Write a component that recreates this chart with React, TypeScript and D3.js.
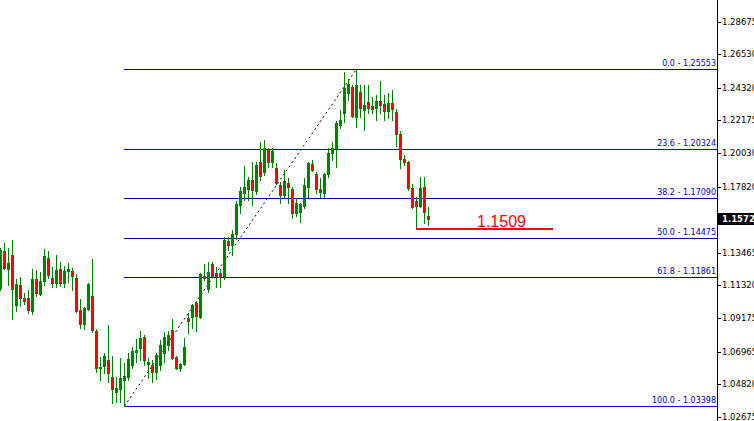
import React from "react";
import * as d3 from "d3";

const opens = [1.1115,1.1359,1.1240,1.1332,1.1004,1.1135,1.1050,1.1050,1.0964,1.1175,1.1076,1.1161,1.1313,1.1181,1.1148,1.1240,1.1148,1.1227,1.1227,1.1181,1.0971,1.0879,1.0977,1.1063,1.0833,1.0594,1.0603,1.0642,1.0530,1.0432,1.0451,1.0511,1.0530,1.0609,1.0695,1.0721,1.0793,1.0616,1.0609,1.0563,1.0609,1.0688,1.0741,1.0839,1.0662,1.0589,1.0616,1.0918,1.0925,1.1017,1.0925,1.1194,1.1109,1.1273,1.1214,1.1214,1.1194,1.1424,1.1398,1.1470,1.1661,1.1740,1.1766,1.1825,1.1753,1.1944,1.1878,1.2023,1.1944,1.1904,1.1793,1.1727,1.1806,1.1766,1.1609,1.1615,1.1655,1.1779,1.1931,1.1865,1.1766,1.1740,1.1865,1.2003,1.2036,1.2187,1.2266,1.2397,1.2437,1.2240,1.2404,1.2286,1.2338,1.2312,1.2299,1.2345,1.2325,1.2279,1.2332,1.2273,1.2128,1.1964,1.1944,1.1773,1.1687,1.1655,1.1779,1.1589];
const highs = [1.1378,1.1411,1.1378,1.1431,1.1175,1.1188,1.1083,1.1102,1.1240,1.1234,1.1221,1.1372,1.1359,1.1253,1.1332,1.1286,1.1260,1.1280,1.1247,1.1207,1.1043,1.0991,1.1148,1.1306,1.0846,1.0662,1.0688,1.0872,1.0668,1.0530,1.0655,1.0622,1.0688,1.0728,1.0780,1.0833,1.0806,1.0655,1.0642,1.0688,1.0774,1.0826,1.0833,1.0912,1.0668,1.0622,1.0787,1.0951,1.1010,1.1023,1.1214,1.1273,1.1286,1.1286,1.1253,1.1240,1.1451,1.1451,1.1497,1.1687,1.1779,1.1918,1.1845,1.1944,1.1944,1.2075,1.2088,1.2036,1.2036,1.1937,1.1812,1.1891,1.1839,1.1779,1.1707,1.1674,1.1839,1.1944,1.1957,1.1878,1.1839,1.1872,1.2036,1.2075,1.2213,1.2286,1.2536,1.2490,1.2450,1.25553,1.2450,1.2450,1.2450,1.2371,1.2384,1.2476,1.2384,1.2397,1.2417,1.2292,1.2148,1.1990,1.1950,1.1799,1.1714,1.1845,1.1845,1.1648];
const lows = [1.1102,1.1240,1.1135,1.0912,1.0964,1.0997,1.1010,1.0951,1.0944,1.1063,1.1069,1.1135,1.1181,1.1122,1.1122,1.1129,1.1122,1.1155,1.1102,1.0958,1.0852,1.0846,1.0971,1.0826,1.0563,1.0511,1.0557,1.0497,1.0359,1.0366,1.0366,1.03398,1.0511,1.0589,1.0629,1.0642,1.0609,1.0524,1.0497,1.0517,1.0576,1.0629,1.0708,1.0649,1.0583,1.0570,1.0609,1.0820,1.0852,1.0833,1.0918,1.1168,1.1089,1.1188,1.1122,1.1122,1.1175,1.1365,1.1332,1.1438,1.1609,1.1694,1.1694,1.1661,1.1733,1.1825,1.1858,1.1911,1.1911,1.1799,1.1674,1.1714,1.1674,1.1576,1.1589,1.1549,1.1641,1.1714,1.1885,1.1740,1.1714,1.1714,1.1845,1.1957,1.1911,1.2167,1.2207,1.2351,1.2240,1.2174,1.2240,1.2154,1.2266,1.2266,1.2220,1.2266,1.2220,1.2233,1.2220,1.2049,1.1904,1.1924,1.1760,1.1641,1.1509,1.1648,1.1543,1.1530];
const closes = [1.1365,1.1247,1.1280,1.1109,1.1142,1.1050,1.1030,1.0971,1.1175,1.1083,1.1161,1.1326,1.1201,1.1148,1.1234,1.1148,1.1227,1.1240,1.1194,1.0964,1.0879,1.0984,1.1142,1.0839,1.0589,1.0592,1.0668,1.0557,1.0451,1.0458,1.0524,1.0537,1.0649,1.0701,1.0708,1.0787,1.0642,1.0629,1.0563,1.0675,1.0741,1.0793,1.0806,1.0655,1.0589,1.0616,1.0728,1.0898,1.1004,1.0931,1.1207,1.1181,1.1221,1.1194,1.1194,1.1188,1.1431,1.1398,1.1470,1.1668,1.1753,1.1779,1.1825,1.1760,1.1924,1.1852,1.2036,1.1944,1.2016,1.1806,1.1727,1.1819,1.1779,1.1609,1.1674,1.1668,1.1793,1.1937,1.1891,1.1766,1.1747,1.1865,1.2003,1.2036,1.2200,1.2220,1.2430,1.2457,1.2246,1.2450,1.2299,1.2319,1.2299,1.2292,1.2345,1.2319,1.2279,1.2332,1.2292,1.2128,1.1964,1.1944,1.1773,1.1648,1.1655,1.1773,1.1615,1.1572];

const axisTicks = [1.28675,1.2653,1.2432,1.22175,1.2003,1.1782,1.13465,1.1132,1.09175,1.06965,1.0482,1.02675];
const fibLevels = [0.0, 23.6, 38.2, 50.0, 61.8, 100.0];
const fibPrices = [1.25553, 1.20324, 1.1709, 1.14475, 1.11861, 1.03398];
const fibColors = ["#000090", "#0000ff", "#000090", "#000090", "#000090", "#0000ff"];
const fibLowIndex = 31;
const fibHighIndex = 89;
const supportPrice = 1.1509;
const supportLabel = "1.1509";
const supportStartIndex = 104;
const supportBars = 34;
const currentPrice = 1.15721;

const W = 754;
const H = 421;
const AXIS_X = 717;
const GREEN = "#008000";
const RED = "#ff0000";

export default function App() {
  const y = d3.scaleLinear().domain([1.03398, 1.25553]).range([406, 69]);
  const x = d3.scaleLinear().domain([0, 1]).range([0, 4]);
  const py = (v: number) => Math.round(y(v));

  const candles = opens.map((o, i) => {
    const c = closes[i];
    const h = highs[i];
    const l = lows[i];
    const cx = x(i);
    const top = py(Math.max(o, c));
    const bot = py(Math.min(o, c));
    const bear = c < o;
    const bh = Math.max(1, bot - top + 1);
    return (
      <g key={i}>
        <rect x={cx} y={py(h)} width={1} height={py(l) - py(h) + 1} fill={GREEN} />
        <rect x={cx - 1} y={top} width={3} height={bh} fill={GREEN} />
        {bear && bh > 2 && <rect x={cx} y={top + 1} width={1} height={bh - 2} fill={RED} />}
      </g>
    );
  });

  const fibX0 = x(fibLowIndex);

  return (
    <svg width={W} height={H} style={{ position: "absolute", left: 0, top: 0, background: "#fff" }} shapeRendering="crispEdges">
      <rect x={0} y={0} width={W} height={H} fill="#fff" />
      {fibPrices.map((p, i) => (
        <g key={"f" + i}>
          <rect x={fibX0} width={AXIS_X - fibX0} y={py(p)} height={1} fill={fibColors[i]} />
          <text x={AXIS_X - 1} y={py(p) - 3} textAnchor="end" fontFamily="DejaVu Sans" fontSize={8} fill="#0000cc" shapeRendering="auto">
            {fibLevels[i].toFixed(1) + " - " + p.toFixed(5)}
          </text>
        </g>
      ))}
      <line
        x1={x(fibLowIndex) + 0.5}
        y1={y(fibPrices[5])}
        x2={x(fibHighIndex) + 0.5}
        y2={y(fibPrices[0])}
        stroke="#000"
        strokeWidth={1}
        strokeDasharray="2,3"
        shapeRendering="auto"
      />
      {candles}
      <rect x={x(supportStartIndex)} y={py(supportPrice)} width={x(supportBars) + 1} height={2} fill={RED} />
      <text x={x(supportStartIndex) + 61} y={py(supportPrice) - 1} fontFamily="Liberation Sans, Arial" fontSize={16} fill={RED} shapeRendering="auto">
        {supportLabel}
      </text>
      <rect x={AXIS_X} y={0} width={1} height={H} fill="#000" />
      {axisTicks.map((t, i) => (
        <g key={"t" + i}>
          <rect x={AXIS_X} width={4} y={py(t)} height={1} fill="#000" />
          <text x={AXIS_X + 5} y={py(t)} dy="0.35em" fontFamily="DejaVu Sans" fontSize={8.5} fill="#000" shapeRendering="auto">
            {t.toFixed(5)}
          </text>
        </g>
      ))}
      <rect x={AXIS_X} width={4} y={py(currentPrice)} height={1} fill="#000" />
      <rect x={AXIS_X + 1} y={py(currentPrice) - 6} width={W - AXIS_X} height={12} fill="#000" />
      <text x={AXIS_X + 5} y={py(currentPrice)} dy="0.35em" fontFamily="DejaVu Sans" fontWeight="bold" fontSize={8.5} fill="#fff" shapeRendering="auto">
        {currentPrice.toFixed(5)}
      </text>
    </svg>
  );
}
